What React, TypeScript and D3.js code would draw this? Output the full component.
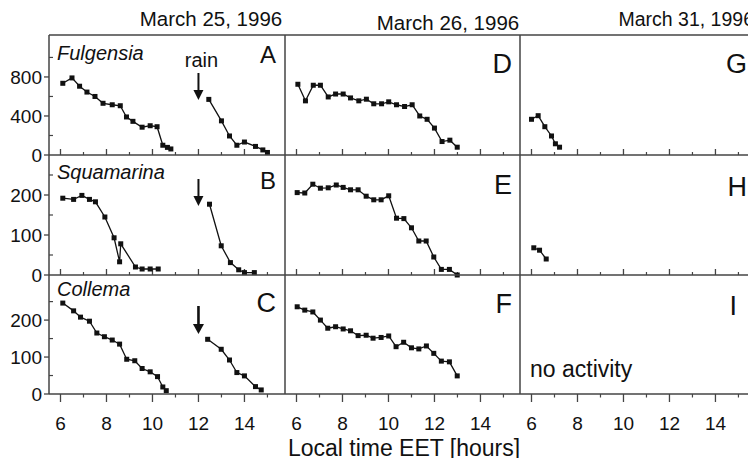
import React from "react";
import * as d3 from "d3";

// ---------- data ----------
const dates = ["March 25, 1996", "March 26, 1996", "March 31, 1996"];
const species = ["Fulgensia", "Squamarina", "Collema"];
const panelLetters = [["A", "D", "G"], ["B", "E", "H"], ["C", "F", "I"]];
const xTicks = [6, 8, 10, 12, 14];
const xMinor = [7, 9, 11, 13, 15];
const yMajor = [[0, 400, 800], [0, 100, 200], [0, 100, 200]];
const yMinor = [[200, 600, 1000], [50, 150, 250], [50, 150, 250]];
const yMax = [1230, 300, 322];

// March 25, before rain
const tA1 = [6.1, 6.5, 6.83, 7.15, 7.5, 7.85, 8.25, 8.6, 8.87, 9.15, 9.55, 9.9, 10.2, 10.45, 10.65, 10.8];
const vA1 = [735, 790, 705, 645, 600, 530, 515, 505, 390, 345, 285, 300, 290, 100, 78, 62];
const tB1 = [6.1, 6.57, 6.93, 7.26, 7.52, 7.93, 8.33, 8.57, 8.62, 9.26, 9.55, 9.9, 10.25];
const vB1 = [192, 189, 199, 189, 183, 145, 93, 33, 78, 20, 15, 15, 15];
const tC1 = [6.1, 6.57, 6.87, 7.26, 7.58, 7.91, 8.25, 8.57, 8.88, 9.23, 9.55, 9.9, 10.22, 10.45, 10.6];
const vC1 = [246, 225, 208, 197, 165, 155, 146, 135, 94, 90, 69, 60, 47, 19, 9];
// March 25, after rain
const tA2 = [12.45, 13.0, 13.35, 13.67, 14.0, 14.48, 14.8, 15.0];
const vA2 = [570, 350, 195, 100, 133, 88, 52, 26];
const tB2 = [12.48, 12.99, 13.39, 13.75, 14.0, 14.43];
const vB2 = [177, 73, 31, 13, 6, 6];
const tC2 = [12.4, 12.99, 13.35, 13.67, 14.0, 14.48, 14.73];
const vC2 = [148, 121, 92, 58, 49, 20, 11];
// March 26
const tD = [6.06, 6.39, 6.73, 7.04, 7.38, 7.7, 8.03, 8.35, 8.71, 9.04, 9.36, 9.7, 10.01, 10.35, 10.7, 11.03, 11.36, 11.68, 12.0, 12.33, 12.67, 12.99];
const vD = [725, 555, 715, 715, 595, 625, 625, 585, 555, 572, 525, 525, 545, 515, 497, 515, 400, 366, 276, 138, 152, 80];
const tE = [6.03, 6.36, 6.71, 7.04, 7.38, 7.73, 8.03, 8.35, 8.68, 9.03, 9.36, 9.68, 10.01, 10.35, 10.67, 11.0, 11.32, 11.64, 11.97, 12.3, 12.65, 12.99];
const vE = [206, 205, 227, 217, 218, 225, 219, 213, 213, 197, 188, 188, 198, 142, 141, 118, 85, 85, 45, 14, 14, 0];
const tF = [6.03, 6.36, 6.71, 7.04, 7.36, 7.7, 8.03, 8.35, 8.68, 9.03, 9.33, 9.68, 10.01, 10.33, 10.66, 11.0, 11.32, 11.65, 11.97, 12.3, 12.65, 12.99];
const vF = [236, 227, 222, 200, 178, 182, 176, 171, 158, 159, 151, 153, 157, 128, 140, 125, 122, 130, 110, 89, 87, 49];
// March 31
const tG = [6.0, 6.29, 6.58, 6.87, 7.04, 7.22];
const vG = [366, 403, 290, 195, 115, 80];
const tH = [6.1, 6.35, 6.64];
const vH = [68, 62, 40];

const rainTime = 12.0;
const xLabel = "Local time EET [hours]";
const noActivity = "no activity";

// ---------- layout ----------
const W = 756, H = 466;
const colLeft = [49, 285, 520];
const colW = 235;
const rowTop = [35, 155, 275];
const rowH = [120, 120, 119];
const FONT = "'Liberation Sans', Arial, Helvetica, sans-serif";
const INK = "#111";
const FRAME = "#444";

type S = { t: number[]; v: number[] };
const panels: S[][][] = [
  [[{ t: tA1, v: vA1 }, { t: tA2, v: vA2 }], [{ t: tD, v: vD }], [{ t: tG, v: vG }]],
  [[{ t: tB1, v: vB1 }, { t: tB2, v: vB2 }], [{ t: tE, v: vE }], [{ t: tH, v: vH }]],
  [[{ t: tC1, v: vC1 }, { t: tC2, v: vC2 }], [{ t: tF, v: vF }], []],
];

const letterSize = [[24, 27, 27], [24, 27, 27], [27, 27, 27]];
const letterBase = [[63, 73, 73], [189, 194, 196], [312, 313, 315]];
const speciesBase = [60, 179, 296];
const arrowTop = [73, 179, 306];
const arrowTip = [100, 206, 334];
const titleX = [211, 448, 754];
const titleY = [26, 30, 26];
const titleAnchor = ["middle", "middle", "end"];

export default function App() {
  const xs = colLeft.map((l) => d3.scaleLinear().domain([5.5, 15.72]).range([l, l + colW]));
  const ys = rowTop.map((t, r) => d3.scaleLinear().domain([0, yMax[r]]).range([t + rowH[r], t]));
  const bottom = rowTop[2] + rowH[2];

  return (
    <div style={{ margin: -8 }}>
      <svg width={W} height={H} style={{ display: "block", background: "#fff" }} fontFamily={FONT}>
        {/* titles */}
        {dates.map((d, c) => (
          <text key={d} x={titleX[c]} y={titleY[c]} fontSize={c === 2 ? 19.5 : 20.5} textAnchor={titleAnchor[c]} fill={INK}>
            {d}
          </text>
        ))}

        {/* panels */}
        {panels.map((row, r) =>
          row.map((series, c) => {
            const x = xs[c];
            const y = ys[r];
            return (
              <g key={`${r}-${c}`}>
                {/* x ticks */}
                {xTicks.map((t) =>
                  r < 2 ? (
                    <line key={"M" + t} x1={x(t)} x2={x(t)} y1={y(0)} y2={y(0) - 6} stroke={FRAME} strokeWidth={1.3} />
                  ) : (
                    <line key={"M" + t} x1={x(t)} x2={x(t)} y1={bottom} y2={bottom + 8} stroke={FRAME} strokeWidth={1.3} />
                  )
                )}
                {xMinor.map((t) =>
                  r < 2 ? (
                    <line key={"m" + t} x1={x(t)} x2={x(t)} y1={y(0)} y2={y(0) - 3} stroke={FRAME} strokeWidth={1.2} />
                  ) : (
                    <line key={"m" + t} x1={x(t)} x2={x(t)} y1={bottom} y2={bottom + 3.5} stroke={FRAME} strokeWidth={1.2} />
                  )
                )}
                {series.map((s, k) => {
                  const path = d3
                    .line<number>()
                    .x((_, i) => x(s.t[i]))
                    .y((v) => y(v))(s.v);
                  return (
                    <g key={k}>
                      <path d={path || ""} fill="none" stroke={INK} strokeWidth={1.3} />
                      {s.v.map((v, i) => (
                        <rect key={i} x={x(s.t[i]) - 2.5} y={y(v) - 2.5} width={5} height={5} fill={INK} />
                      ))}
                    </g>
                  );
                })}
                <text
                  x={c === 2 && r === 2 ? colLeft[c] + colW - 18 : colLeft[c] + colW - 8}
                  y={letterBase[r][c]}
                  fontSize={letterSize[r][c]}
                  textAnchor="end"
                  fill={INK}
                >
                  {panelLetters[r][c]}
                </text>
              </g>
            );
          })
        )}

        {/* left y axis ticks and labels */}
        {rowTop.map((_, r) => (
          <g key={"y" + r}>
            {yMajor[r].map((v) => (
              <g key={v}>
                <line x1={colLeft[0] - 5} x2={colLeft[0]} y1={ys[r](v)} y2={ys[r](v)} stroke={FRAME} strokeWidth={1.3} />
                <text x={colLeft[0] - 7} y={ys[r](v) + 7} fontSize={19} textAnchor="end" fill={INK}>
                  {v}
                </text>
              </g>
            ))}
            {yMinor[r].map((v) => (
              <line key={"n" + v} x1={colLeft[0]} x2={colLeft[0] + 4} y1={ys[r](v)} y2={ys[r](v)} stroke={FRAME} strokeWidth={1.2} />
            ))}
            <text x={57} y={speciesBase[r]} fontSize={20} fontStyle="italic" fill={INK}>
              {species[r]}
            </text>
            {/* rain arrow */}
            <line
              x1={xs[0](rainTime)}
              x2={xs[0](rainTime)}
              y1={arrowTop[r]}
              y2={arrowTip[r] - 8}
              stroke={INK}
              strokeWidth={r === 2 ? 2.6 : 2}
            />
            <path
              d={`M${xs[0](rainTime) - (r === 2 ? 5.5 : 5)},${arrowTip[r] - 10} L${xs[0](rainTime) + (r === 2 ? 5.5 : 5)},${arrowTip[r] - 10} L${xs[0](rainTime)},${arrowTip[r]} Z`}
              fill={INK}
            />
          </g>
        ))}
        <text x={xs[0](rainTime) + 3} y={67} fontSize={20} textAnchor="middle" fill={INK}>
          rain
        </text>

        {/* x tick labels */}
        {xs.map((x, c) =>
          xTicks.map((t) => (
            <text key={c + "-" + t} x={x(t)} y={430} fontSize={19} textAnchor="middle" fill={INK}>
              {t}
            </text>
          ))
        )}
        <text x={404} y={456} fontSize={23} textAnchor="middle" fill={INK}>
          {xLabel}
        </text>
        <text x={530} y={377} fontSize={23} fill={INK}>
          {noActivity}
        </text>

        {/* frames */}
        {rowTop.map((t, r) => (
          <line key={"h" + r} x1={colLeft[0]} x2={W - 1} y1={t} y2={t} stroke={FRAME} strokeWidth={1.5} />
        ))}
        <line x1={colLeft[0]} x2={W - 1} y1={bottom} y2={bottom} stroke={FRAME} strokeWidth={1.5} />
        {[...colLeft, W - 1].map((x) => (
          <line key={"v" + x} x1={x} x2={x} y1={rowTop[0]} y2={bottom} stroke={FRAME} strokeWidth={1.5} />
        ))}
      </svg>
    </div>
  );
}
